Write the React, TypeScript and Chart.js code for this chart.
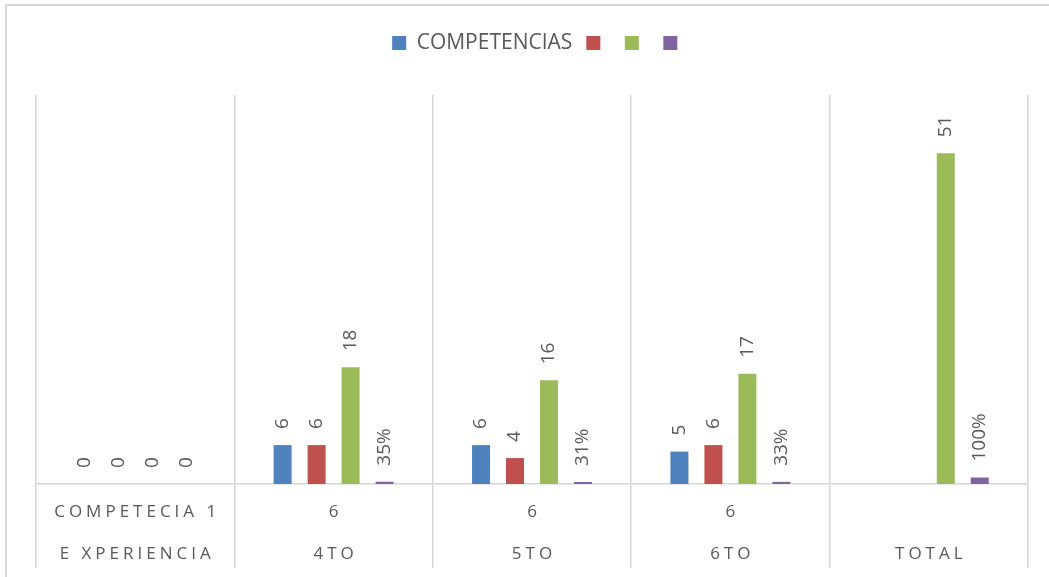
import { useEffect, useRef } from 'react';
import { Chart, registerables, CategoryScale } from 'chart.js';

Chart.register(...registerables);

// ---- data ----
const categories: string[][] = [
  ['COMPETECIA 1', 'E XPERIENCIA'],
  ['6', '4TO'],
  ['6', '5TO'],
  ['6', '6TO'],
  ['', 'TOTAL'],
];
const seriesNames = ['COMPETENCIAS', '', '', ''];
const blueValues: (number | null)[] = [0, 6, 6, 5, null];
const redValues: (number | null)[] = [0, 6, 4, 6, null];
const greenValues: (number | null)[] = [0, 18, 16, 17, 51];
const purpleValues: (number | null)[] = [0, 0.35, 0.31, 0.33, 1.0];
const yMax = 60;

const seriesColors = ['#4f81bd', '#c0504d', '#9bbb59', '#8064a2'];

const plainLabel = (v: number | null) => (v == null ? null : String(v));
const percentLabel = (v: number | null) =>
  v == null ? null : v === 0 ? '0' : `${Math.round(v * 100)}%`;

const FONT = '"Open Sans", "Noto Sans", sans-serif';
const TEXT_COLOR = '#595959';
const GRID_COLOR = '#d6d6d6';

class SpacedCategoryScale extends (CategoryScale as any) {
  _computeLabelArea() {
    return undefined;
  }
  drawLabels(chartArea: any) {
    const ctx = this.ctx;
    ctx.save();
    (ctx as any).letterSpacing = '4px';
    ctx.translate(2, 0);
    super.drawLabels(chartArea);
    ctx.restore();
  }
}
(SpacedCategoryScale as any).id = 'spacedCategory';
(SpacedCategoryScale as any).defaults = (CategoryScale as any).defaults;
Chart.register(SpacedCategoryScale as any);

const legendSpacing = {
  id: 'legendSpacing',
  beforeInit(chart: any) {
    const legend = chart.legend;
    if (!legend) return;
    const origFit = legend.fit;
    legend.fit = function fit() {
      origFit.call(legend);
      this.height += 31.5;
    };
    const origDraw = legend.draw;
    legend.draw = function draw() {
      const ctx = chart.ctx;
      ctx.save();
      ctx.translate(8, 0);
      origDraw.call(legend);
      ctx.restore();
    };
  },
};

const outerBorder = {
  id: 'outerBorder',
  beforeDraw(chart: any) {
    const ctx = chart.ctx;
    ctx.save();
    ctx.strokeStyle = '#d9d9d9';
    ctx.lineWidth = 2;
    ctx.strokeRect(6, 5, 1400, 900);
    ctx.restore();
  },
};

const valueLabels = {
  id: 'valueLabels',
  afterDatasetsDraw(chart: any) {
    const ctx = chart.ctx;
    const formatters = [plainLabel, plainLabel, plainLabel, percentLabel];
    chart.data.datasets.forEach((ds: any, i: number) => {
      const meta = chart.getDatasetMeta(i);
      meta.data.forEach((el: any, j: number) => {
        const text = formatters[i](ds.data[j]);
        if (text == null) return;
        ctx.save();
        ctx.translate(el.x, el.y - 16);
        ctx.rotate(-Math.PI / 2);
        ctx.font = `19px ${FONT}`;
        ctx.fillStyle = TEXT_COLOR;
        ctx.textAlign = 'left';
        ctx.textBaseline = 'middle';
        ctx.fillText(text, 0, 0);
        ctx.restore();
      });
    });
  },
};

export default function App() {
  const canvasRef = useRef<HTMLCanvasElement | null>(null);

  useEffect(() => {
    document.body.style.margin = '0';
    const canvas = canvasRef.current;
    if (!canvas) return;
    const valueSets = [blueValues, redValues, greenValues, purpleValues];
    const chart = new Chart(canvas, {
      type: 'bar',
      data: {
        labels: categories,
        datasets: valueSets.map((vals, i) => ({
          label: seriesNames[i],
          data: vals,
          backgroundColor: seriesColors[i],
          borderWidth: 0,
          categoryPercentage: 0.685,
          barPercentage: 0.53,
        })),
      },
      options: {
        responsive: false,
        animation: false,
        layout: { padding: { left: 36, right: 21, top: 18.5, bottom: 79 } },
        plugins: {
          legend: {
            position: 'top',
            labels: {
              boxWidth: 14,
              boxHeight: 14,
              padding: 14,
              color: TEXT_COLOR,
              font: { family: FONT, size: 21 },
            },
          },
          tooltip: { enabled: false },
        },
        scales: {
          x: {
            type: 'spacedCategory' as any,
            offset: true,
            grid: {
              offset: true,
              color: GRID_COLOR,
              lineWidth: 1.5,
              tickLength: 84,
              drawTicks: true,
              drawOnChartArea: true,
            },
            border: { display: true, color: GRID_COLOR, width: 1.5 },
            ticks: {
              color: TEXT_COLOR,
              font: { family: FONT, size: 17, lineHeight: '42px' as any },
              padding: -77,
              maxRotation: 0,
              autoSkip: false,
            },
          },
          y: {
            display: false,
            min: 0,
            max: yMax,
          },
        },
      },
      plugins: [legendSpacing, outerBorder, valueLabels],
    });
    return () => chart.destroy();
  }, []);

  return (
    <div style={{ position: 'absolute', left: 0, top: 0, width: 1049, height: 577 }}>
      <canvas ref={canvasRef} width={1049} height={577} />
    </div>
  );
}
